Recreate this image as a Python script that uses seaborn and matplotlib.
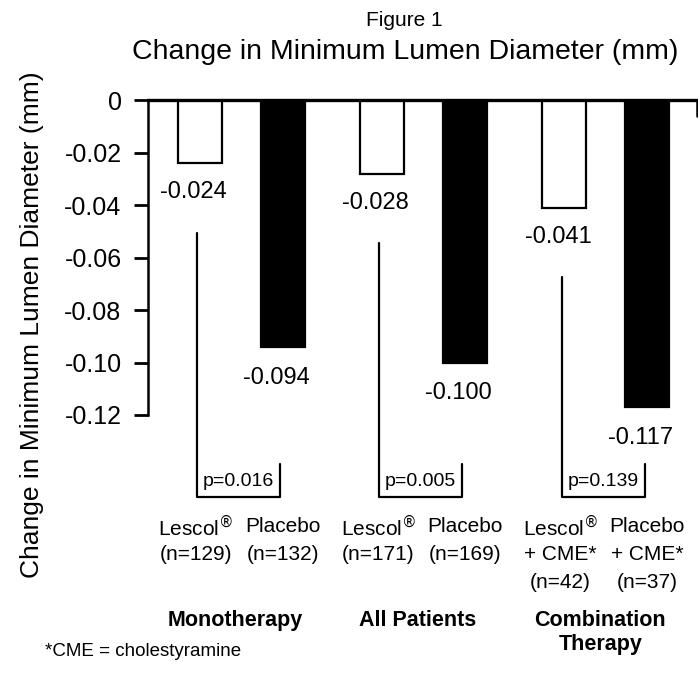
import matplotlib
matplotlib.use("Agg")
import matplotlib.pyplot as plt
import matplotlib.transforms as mtransforms
import seaborn as sns
import pandas as pd

# ---- data ----
groups = ["Monotherapy", "All Patients", "Combination\nTherapy"]
treatments = ["Lescol", "Placebo"]
lescol_values = [-0.024, -0.028, -0.041]
placebo_values = [-0.094, -0.100, -0.117]
p_values = ["p=0.016", "p=0.005", "p=0.139"]
lescol_lines = [["Lescol$^{®}$", "(n=129)"],
                ["Lescol$^{®}$", "(n=171)"],
                ["Lescol$^{®}$", "+ CME*", "(n=42)"]]
placebo_lines = [["Placebo", "(n=132)"],
                 ["Placebo", "(n=169)"],
                 ["Placebo", "+ CME*", "(n=37)"]]
y_ticks = [0, -0.02, -0.04, -0.06, -0.08, -0.10, -0.12]
y_tick_labels = ["0", "-0.02", "-0.04", "-0.06", "-0.08", "-0.10", "-0.12"]
value_labels_l = ["-0.024", "-0.028", "-0.041"]
value_labels_p = ["-0.094", "-0.100", "-0.117"]

df = pd.DataFrame({
    "group": groups * 2,
    "treatment": [treatments[0]] * 3 + [treatments[1]] * 3,
    "value": lescol_values + placebo_values,
})

sns.set_style("white")
plt.rcParams['font.family'] = ['Liberation Sans', 'DejaVu Sans']
plt.rcParams['text.color'] = 'black'
plt.rcParams['axes.labelcolor'] = 'black'
plt.rcParams['ytick.color'] = 'black'
plt.rcParams['xtick.color'] = 'black'

W, H = 698, 682
fig = plt.figure(figsize=(W / 100, H / 100), dpi=100)
ax = fig.add_axes([148 / W, 1 - 415 / H, (697 - 148) / W, 315 / H])

sns.barplot(data=df, x="group", y="value", hue="treatment",
            order=groups, hue_order=treatments,
            palette={"Lescol": "white", "Placebo": "black"},
            edgecolor="black", linewidth=1.6, width=0.91, gap=0.47,
            errorbar=None, legend=False, ax=ax)

ax.set_xlim(-0.51, 2.50)
ax.set_ylim(-0.12, 0)
ax.set_xticks([])
ax.set_xlabel("")
ax.set_yticks(y_ticks)
ax.set_yticklabels(y_tick_labels, fontsize=18, color="black")
ax.tick_params(axis="y", length=10, width=2, pad=9, left=True, colors="black")
for s in ["bottom", "right"]:
    ax.spines[s].set_visible(False)
ax.spines["top"].set_linewidth(2.4)
ax.spines["left"].set_linewidth(1.8)
ax.spines["top"].set_color("black")
ax.spines["left"].set_color("black")
# small tick at right end of zero line
ax.plot([1, 1], [1, 0.95], transform=ax.transAxes, color="black", lw=1.8, clip_on=False)

ax.set_ylabel("Change in Minimum Lumen Diameter (mm)", fontsize=19, va="center", color="black")
ax.yaxis.set_label_coords((32 - 148) / 549, (415 - 325) / 315)

l_bars = ax.containers[0]
p_bars = ax.containers[1]
blend = mtransforms.blended_transform_factory(ax.transData, fig.transFigure)

row_y = [1 - 527 / H, 1 - 555 / H, 1 - 583 / H]
for i, g in enumerate(groups):
    bl = l_bars[i]
    bp = p_bars[i]
    lx = bl.get_x() + bl.get_width() / 2
    px = bp.get_x() + bp.get_width() / 2
    lv = bl.get_y() + bl.get_height()
    pv = bp.get_y() + bp.get_height()
    # value labels
    ax.text(lx - 0.035, min(lv, 0) - 0.0112, value_labels_l[i], ha="center", va="center",
            fontsize=17, clip_on=False, color="black")
    ax.text(px - 0.035, min(pv, 0) - 0.0118, value_labels_p[i], ha="center", va="center",
            fontsize=17, clip_on=False, color="black")
    # bracket
    top = lescol_values[i] - 0.0265
    bottom = -0.1512
    ax.plot([lx - 0.015, lx - 0.015, px - 0.015, px - 0.015],
            [top, bottom, bottom, -0.1385], color="black", lw=1.6, clip_on=False)
    ax.text((lx + px) / 2 - 0.015, -0.1452, p_values[i], ha="center", va="center",
            fontsize=14, clip_on=False, color="black")
    # category labels
    for j, t in enumerate(lescol_lines[i]):
        ax.text(lx - 0.02, row_y[j], t, transform=blend, ha="center", va="center",
                fontsize=15, color="black")
    for j, t in enumerate(placebo_lines[i]):
        ax.text(px, row_y[j], t, transform=blend, ha="center", va="center",
                fontsize=15, color="black")
    # group labels
    ax.text(i - 0.03, 1 - 610 / H, g, transform=blend, ha="center", va="top",
            fontsize=15.5, fontweight="bold", linespacing=1.2, color="black")

fig.text(404 / W, 1 - 20 / H, "Figure 1", ha="center", va="center", fontsize=15, color="black")
fig.text(405 / W, 1 - 52 / H, "Change in Minimum Lumen Diameter (mm)", ha="center",
         va="center", fontsize=20.5, color="black")
fig.text(45 / W, 1 - 652 / H, "*CME = cholestyramine", ha="left", va="center",
         fontsize=13.5, color="black")

fig.savefig("out.png", dpi=100)
